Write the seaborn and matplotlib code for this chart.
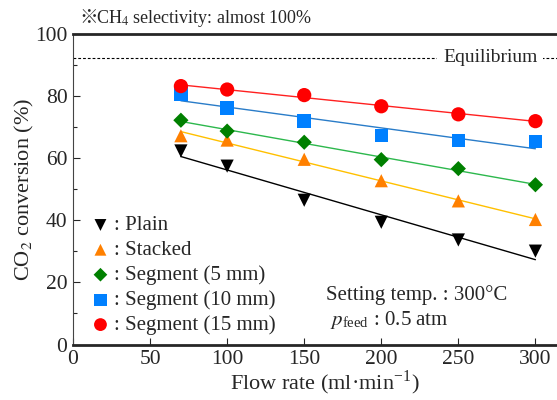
import numpy as np
import pandas as pd
import matplotlib
matplotlib.use('Agg')
import matplotlib.pyplot as plt
import seaborn as sns

# data
flow = [70, 100, 150, 200, 250, 300]
series = ['Plain', 'Stacked', 'Segment (5 mm)', 'Segment (10 mm)', 'Segment (15 mm)']
plain = [62.4, 57.5, 46.5, 39.4, 33.7, 30.1]
stacked = [67.3, 65.9, 59.7, 52.8, 46.3, 40.3]
seg5 = [72.3, 68.8, 65.2, 59.6, 56.7, 51.5]
seg10 = [80.7, 76.3, 72.1, 67.4, 65.8, 65.4]
seg15 = [83.3, 82.2, 80.4, 76.8, 74.2, 72.0]
equilibrium = 92.4

marker_colors = ['black', '#ff8000', '#008000', '#0080ff', '#ff0000']
line_colors = ['black', '#ffc000', '#2db84d', '#2a7cc8', '#ff2020']
markers = ['v', '^', 'D', 's', 'o']
msizes = [90, 90, 60, 95, 105]

df = pd.DataFrame({
    'Flow': flow * 5,
    'Conv': plain + stacked + seg5 + seg10 + seg15,
    'Sample': np.repeat(series, len(flow)),
})

sns.set_style('ticks')
plt.rcParams['font.family'] = ['Liberation Serif', 'DejaVu Serif']
plt.rcParams['mathtext.fontset'] = 'stix'

fig = plt.figure(figsize=(5.57, 4.0), dpi=100)
ax = fig.add_axes([73 / 557, 1 - 344.5 / 400, 1 - 73 / 557, (344.5 - 34.3) / 400])

# fitted lines
for name, lc in zip(series, line_colors):
    sub = df[df['Sample'] == name]
    sns.regplot(data=sub, x='Flow', y='Conv', scatter=False, ci=None,
                color=lc, line_kws={'lw': 1.0}, ax=ax)

# markers
for name, mc, mk, ms in zip(series, marker_colors, markers, msizes):
    sub = df[df['Sample'] == name]
    sns.scatterplot(data=sub, x='Flow', y='Conv', color=mc, marker=mk, s=ms,
                    edgecolor='none', linewidth=0, label=': ' + name, ax=ax, zorder=3)

# equilibrium line
ax.axhline(equilibrium, color='black', lw=0.8, ls=(0, (2.5, 1.8)), zorder=1)
ax.text(240, equilibrium, 'Equilibrium', fontsize=14, va='center', ha='left',
        bbox=dict(facecolor='white', edgecolor='none', pad=4), zorder=2)

ax.set_xlim(0, 314)
ax.set_ylim(0, 100)
ax.set_xticks([0, 50, 100, 150, 200, 250, 300])
ax.set_yticks([0, 20, 40, 60, 80, 100])
ax.set_yticks(np.arange(10, 100, 20), minor=True)
ax.tick_params(axis='both', which='major', direction='in', length=5, width=0.8,
               labelsize=15.5, pad=4, labelfontfamily='Liberation Serif')
ax.tick_params(axis='y', which='minor', direction='in', length=3, width=0.8)

ax.spines['right'].set_visible(False)
ax.spines['left'].set_linewidth(0.8)
ax.spines['left'].set_color('#444444')
ax.spines['top'].set_linewidth(2.0)
ax.spines['bottom'].set_linewidth(2.0)

ax.set_xlabel('Flow rate (ml·min$^{\\mathregular{-1}}$)', fontsize=16, labelpad=0)
ax.xaxis.label.set_x(0.52)
ax.set_ylabel('CO$_2$ conversion (%)', fontsize=16, labelpad=-0.5)

handles, labels = ax.get_legend_handles_labels()
ax.legend(handles, labels, loc='lower left',
          bbox_to_anchor=(-0.01, -0.03), frameon=False, fontsize=15,
          handletextpad=0.0, labelspacing=0.25, handlelength=1.3,
          markerscale=0.9)

ax.text(164, 15.9, 'Setting temp. : 300°C', fontsize=15, va='center')
ax.text(167, 7.9, '$p_{\\mathregular{feed}}$ : 0.5 atm', fontsize=15, va='center')

# note above the plot
fig.text(79 / 557, 1 - 23 / 400, '※', fontsize=13.5, family=['Noto Sans CJK JP', 'DejaVu Sans'],
         va='baseline')
fig.text(96 / 557, 1 - 23 / 400, 'CH$_4$ selectivity: almost 100%', fontsize=13, va='baseline')

plt.savefig('out.png', dpi=100, facecolor='white')
